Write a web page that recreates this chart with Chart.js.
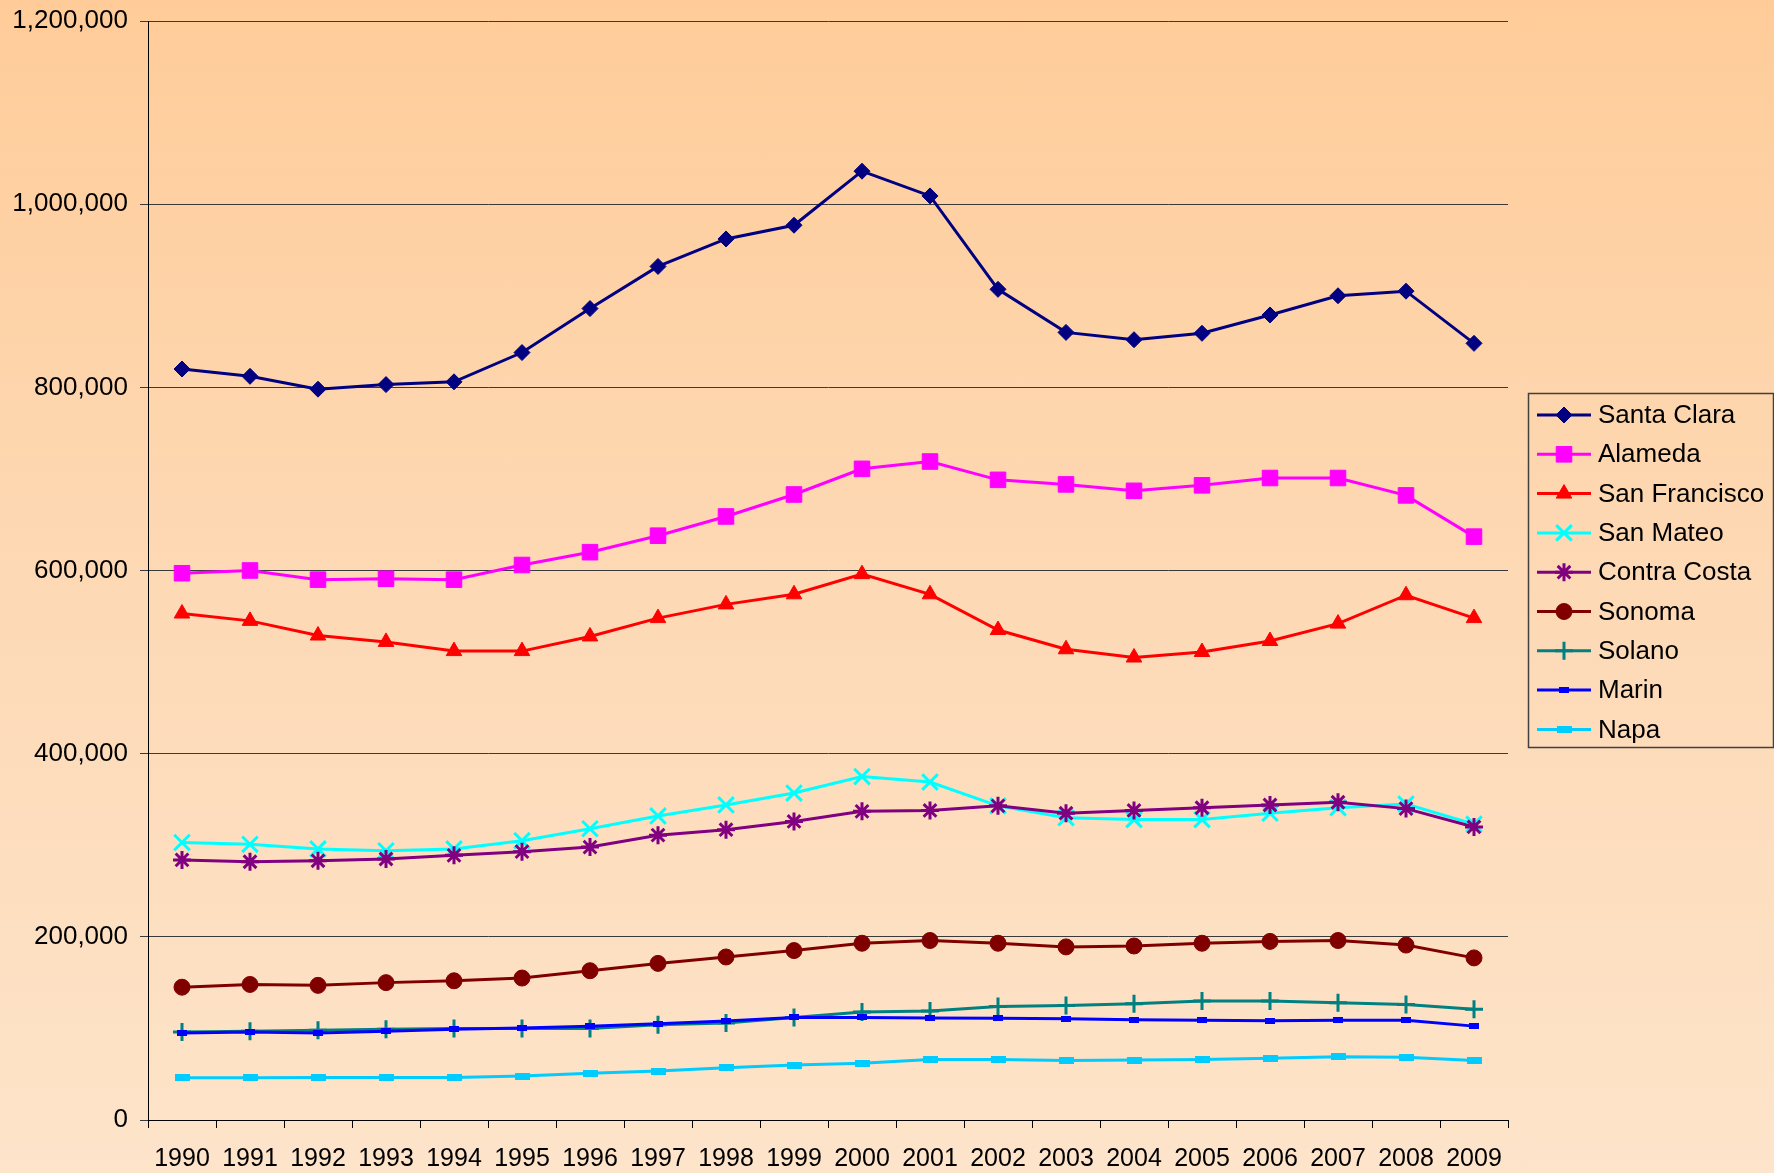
<!DOCTYPE html>
<html>
<head>
<meta charset="utf-8">
<script src="https://cdn.jsdelivr.net/npm/chart.js@4/dist/chart.umd.min.js"></script>
<style>
  html, body {
    margin: 0;
    padding: 0;
    width: 1774px;
    height: 1173px;
    overflow: hidden;
    background: linear-gradient(to bottom, #FFCC99 0%, #FDD9B5 50%, #FDE4CA 100%);
  }
  #wrap {
    position: absolute;
    left: 0;
    top: 0;
    width: 1774px;
    height: 1173px;
  }
</style>
</head>
<body>
<div id="wrap"><canvas id="chart"></canvas></div>
<script>
// Data
const years = ['1990', '1991', '1992', '1993', '1994', '1995', '1996', '1997', '1998', '1999',
  '2000', '2001', '2002', '2003', '2004', '2005', '2006', '2007', '2008', '2009'];

const santaClara = [820000, 812000, 798000, 803000, 806000, 838000, 886000, 932000, 962000, 977000,
  1036000, 1009000, 907000, 860000, 852000, 859000, 879000, 900000, 905000, 848000];
const alameda = [597000, 600000, 590000, 591000, 590000, 606000, 620000, 638000, 659000, 683000,
  711000, 719000, 699000, 694000, 687000, 693000, 701000, 701000, 682000, 637000];
const sanFrancisco = [553000, 545000, 529000, 522000, 512000, 512000, 528000, 548000, 563000, 574000,
  596000, 574000, 535000, 514000, 505000, 511000, 523000, 542000, 573000, 548000];
const sanMateo = [303000, 301000, 296000, 294000, 296000, 305000, 318000, 332000, 344000, 357000,
  375000, 369000, 343000, 330000, 328000, 328000, 335000, 341000, 345000, 323000];
const contraCosta = [284000, 282000, 283000, 285000, 289000, 293000, 298000, 311000, 317000, 326000,
  337000, 338000, 343000, 335000, 338000, 341000, 344000, 347000, 340000, 320000];
const sonoma = [145000, 148000, 147000, 150000, 152000, 155000, 163000, 171000, 178000, 185000,
  193000, 196000, 193000, 189000, 190000, 193000, 195000, 196000, 191000, 177000];
const solano = [96000, 97000, 98000, 99000, 100000, 100000, 100000, 104000, 106000, 112000,
  118000, 119000, 124000, 125000, 127000, 130000, 130000, 128000, 126000, 121000];
const marin = [95000, 96000, 95000, 97000, 99000, 100500, 102500, 105000, 108000, 112000,
  112000, 111500, 111000, 110500, 109500, 109000, 108500, 109000, 109000, 102500];
const napa = [46000, 46000, 46500, 46500, 46500, 48000, 51000, 53500, 57000, 60000,
  62000, 66000, 66000, 65000, 65500, 66000, 67500, 69000, 68500, 65000];

const yTicks = [0, 200000, 400000, 600000, 800000, 1000000, 1200000];

// small filled rectangle used for the dash markers (Marin, Napa)
function dashMarker(w, h, color) {
  const c = document.createElement('canvas');
  c.width = w;
  c.height = h;
  const g = c.getContext('2d');
  g.fillStyle = color;
  g.fillRect(0, 0, w, h);
  return c;
}

const seriesList = [
  { label: 'Santa Clara', data: santaClara, color: '#000080', style: 'rectRot', radius: 8 },
  { label: 'Alameda', data: alameda, color: '#FF00FF', style: 'rect', radius: 11 },
  { label: 'San Francisco', data: sanFrancisco, color: '#FF0000', style: 'triangle', radius: 9 },
  { label: 'San Mateo', data: sanMateo, color: '#00FFFF', style: 'crossRot', radius: 11 },
  { label: 'Contra Costa', data: contraCosta, color: '#800080', style: 'star', radius: 9 },
  { label: 'Sonoma', data: sonoma, color: '#800000', style: 'circle', radius: 8 },
  { label: 'Solano', data: solano, color: '#008080', style: 'cross', radius: 9 },
  { label: 'Marin', data: marin, color: '#0000FF', style: dashMarker(10, 6, '#0000FF'), radius: 5 },
  { label: 'Napa', data: napa, color: '#00CCFF', style: dashMarker(15, 7, '#00CCFF'), radius: 7 }
];

function isStroked(style) {
  return style === 'cross' || style === 'crossRot' || style === 'star';
}

const datasets = seriesList.map((s, i) => ({
  label: s.label,
  data: s.data,
  borderColor: s.color,
  backgroundColor: s.color,
  borderWidth: 3,
  pointStyle: s.style,
  pointRadius: s.radius,
  pointBorderWidth: isStroked(s.style) ? 3 : 1,
  pointBorderColor: s.color,
  pointBackgroundColor: s.color,
  tension: 0,
  order: seriesList.length - i
}));

const fontFamily = '"Liberation Sans", Arial, sans-serif';

// Legend box at the right, drawn like the original
const boxLegend = {
  id: 'boxLegend',
  afterDraw(chart) {
    const ctx = chart.ctx;
    const left = 1528, top = 393, right = 1773, bottom = 747;
    ctx.save();
    ctx.strokeStyle = '#404040';
    ctx.lineWidth = 1.5;
    ctx.strokeRect(left + 0.5, top + 0.5, right - left, bottom - top);
    ctx.textBaseline = 'middle';
    ctx.textAlign = 'left';
    seriesList.forEach((s, i) => {
      const y = 415 + i * 39.3;
      ctx.strokeStyle = s.color;
      ctx.fillStyle = s.color;
      ctx.lineWidth = 3;
      ctx.beginPath();
      ctx.moveTo(1537, y);
      ctx.lineTo(1591, y);
      ctx.stroke();
      ctx.lineWidth = isStroked(s.style) ? 3 : 1;
      Chart.helpers.drawPoint(ctx, {
        pointStyle: s.style,
        radius: s.radius,
        borderWidth: isStroked(s.style) ? 3 : 1
      }, 1564, y);
      ctx.fillStyle = '#000000';
      ctx.font = '26px ' + fontFamily;
      ctx.fillText(s.label, 1598, y + 1);
    });
    ctx.restore();
  }
};

const ctx = document.getElementById('chart');
Chart.defaults.font.family = fontFamily;
Chart.defaults.color = '#000000';

new Chart(ctx, {
  type: 'line',
  data: { labels: years, datasets: datasets },
  options: {
    responsive: true,
    maintainAspectRatio: false,
    animation: false,
    layout: {
      padding: { left: 0, right: 266, top: 21, bottom: 0 }
    },
    plugins: {
      legend: { display: false },
      tooltip: { enabled: false }
    },
    scales: {
      x: {
        offset: true,
        grid: {
          offset: true,
          drawOnChartArea: false,
          drawTicks: true,
          tickLength: 8,
          color: '#000000'
        },
        border: { display: true, color: '#000000', width: 1 },
        ticks: {
          font: { size: 25 },
          color: '#000000',
          padding: 16,
          maxRotation: 0,
          autoSkip: false
        },
        afterFit(scale) {
          scale.height = 53;
          scale.paddingLeft = 0;
          scale.paddingRight = 0;
        }
      },
      y: {
        min: 0,
        max: 1200000,
        afterBuildTicks(scale) {
          scale.ticks = yTicks.map(v => ({ value: v }));
        },
        grid: {
          color: '#3a3a3a',
          lineWidth: 1,
          drawTicks: true,
          tickLength: 8
        },
        border: { display: true, color: '#000000', width: 1 },
        ticks: {
          font: { size: 26 },
          color: '#000000',
          padding: 12,
          callback: v => Number(v).toLocaleString('en-US')
        },
        afterFit(scale) {
          scale.width = 148;
          scale.paddingTop = 0;
          scale.paddingBottom = 0;
        }
      }
    }
  },
  plugins: [boxLegend]
});
</script>
</body>
</html>
